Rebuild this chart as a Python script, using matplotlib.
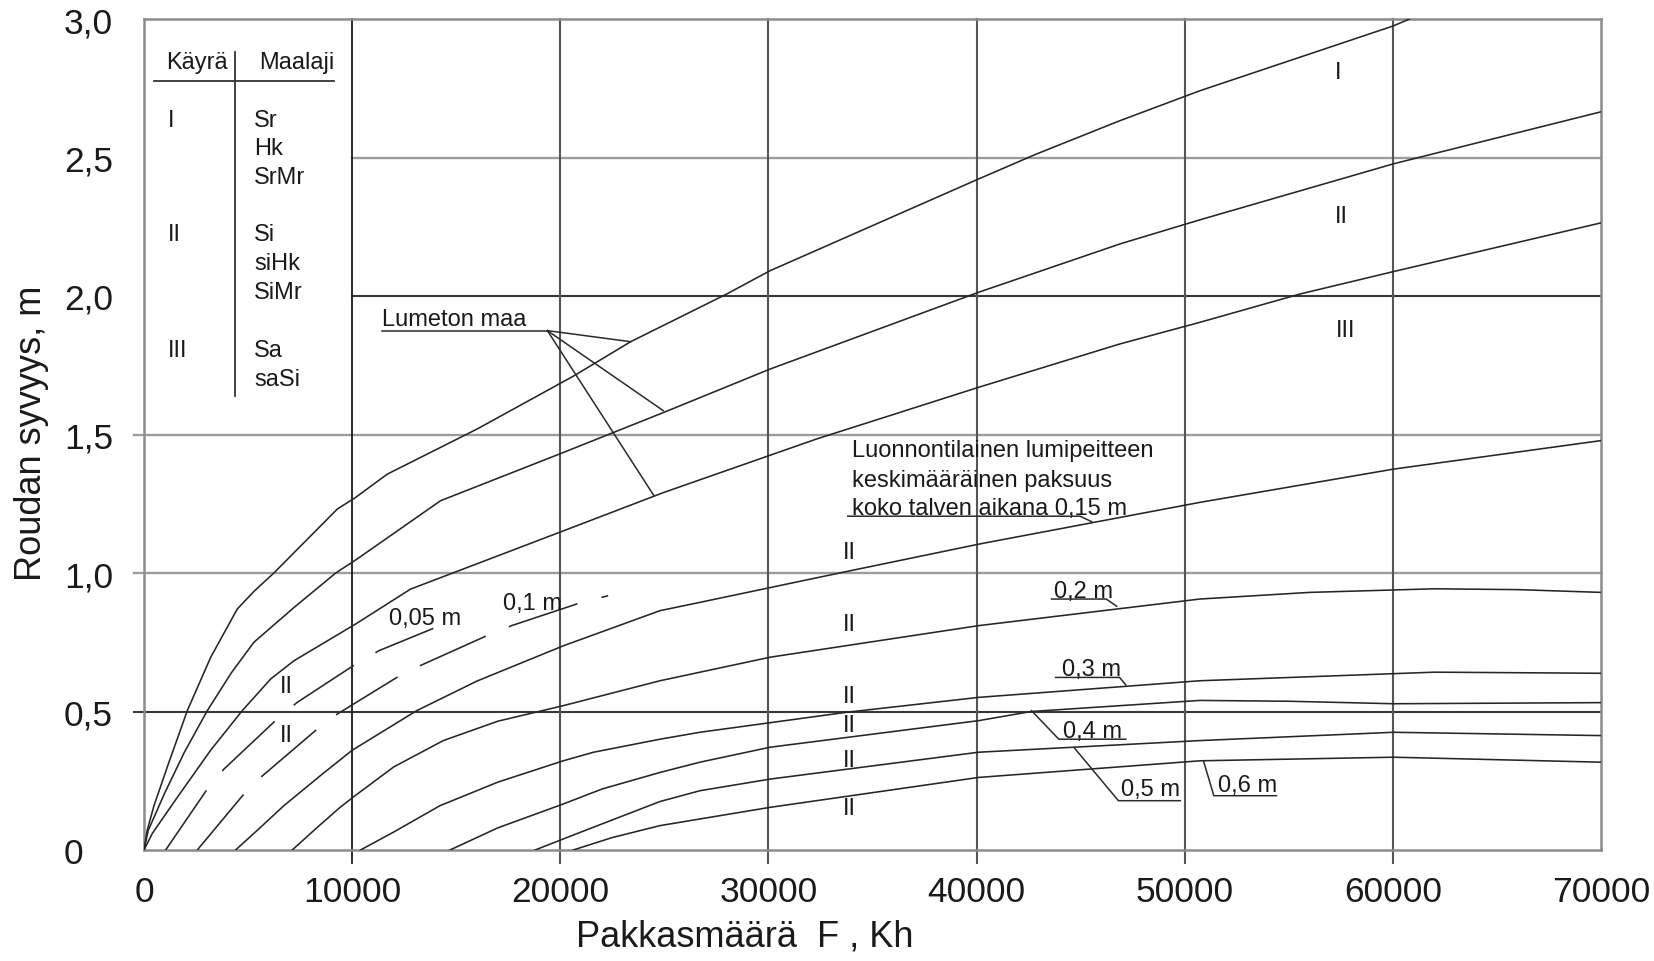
import matplotlib
matplotlib.use('Agg')
import matplotlib.pyplot as plt

plt.rcParams['font.family'] = ['Liberation Sans', 'DejaVu Sans']
plt.rcParams['lines.scale_dashes'] = False

# ===== Data (x = Kh, y = m) =====
# no snow ("Lumeton maa"), soil classes I, II, III
x_I = [0, 150, 480, 1120, 2080, 3200, 4480, 5300, 6240, 9290, 10170, 11690, 16010,
       20660, 23380, 27990, 30070, 40080, 42890, 46890, 50730, 60020, 60800]
y_I = [0, 0.07, 0.16, 0.30, 0.503, 0.695, 0.87, 0.935, 1.0, 1.231, 1.273, 1.357, 1.52,
       1.712, 1.835, 2.007, 2.091, 2.422, 2.513, 2.633, 2.741, 2.975, 3.0]
x_II = [0, 200, 960, 1920, 3040, 4200, 5280, 7200, 9210, 10170, 14250, 20180, 24980,
        30070, 40080, 46890, 50730, 60020, 70000]
y_II = [0, 0.07, 0.2, 0.35, 0.503, 0.64, 0.75, 0.875, 1.0, 1.047, 1.261, 1.436, 1.58,
        1.736, 2.013, 2.188, 2.275, 2.477, 2.665]
x_III = [0, 400, 1600, 3200, 4720, 6080, 7200, 10170, 12810, 20180, 24980, 32320,
         40080, 46890, 50730, 55530, 60020, 70000]
y_III = [0, 0.06, 0.19, 0.36, 0.503, 0.617, 0.683, 0.816, 0.942, 1.153, 1.291, 1.484,
         1.67, 1.827, 1.905, 2.007, 2.088, 2.264]

# snow cover curves (soil II)
x_005 = [1040, 3040, 3840, 6400, 7360, 10250, 11300, 13900]
y_005 = [0, 0.22, 0.292, 0.473, 0.533, 0.675, 0.72, 0.80]
x_010 = [2560, 4800, 5600, 8330, 9290, 12300, 13340, 16540, 17660, 21030, 22300]
y_010 = [0, 0.202, 0.262, 0.437, 0.491, 0.63, 0.668, 0.776, 0.81, 0.894, 0.918]
x_015 = [4400, 5500, 6720, 8500, 10000, 13100, 16000, 20140, 24790, 26710, 33730,
         40160, 50730, 60030, 70000]
y_015 = [0, 0.075, 0.16, 0.27, 0.36, 0.503, 0.61, 0.737, 0.864, 0.894, 1.005,
         1.105, 1.255, 1.375, 1.478]
x_020 = [7120, 8300, 9420, 10140, 12000, 14380, 17000, 20140, 24790, 30080, 40100,
         50730, 56000, 62000, 66000, 70000]
y_020 = [0, 0.08, 0.154, 0.196, 0.30, 0.395, 0.465, 0.521, 0.611, 0.696, 0.81,
         0.906, 0.93, 0.943, 0.94, 0.93]
x_030 = [10400, 12000, 14220, 17000, 20140, 21600, 24790, 26710, 33730, 40100,
         50730, 62000, 70000]
y_030 = [0, 0.065, 0.16, 0.245, 0.322, 0.353, 0.40, 0.425, 0.497, 0.551,
         0.611, 0.642, 0.638]
x_040 = [14700, 17000, 20140, 22000, 24790, 26710, 30080, 40100, 42630, 50730,
         55000, 60030, 70000]
y_040 = [0, 0.08, 0.166, 0.22, 0.28, 0.317, 0.371, 0.467, 0.5, 0.54,
         0.537, 0.528, 0.532]
x_050 = [18790, 21000, 24790, 26710, 30080, 40100, 50730, 60030, 70000]
y_050 = [0, 0.065, 0.175, 0.214, 0.256, 0.353, 0.395, 0.425, 0.413]
x_060 = [20620, 22500, 24790, 26710, 30080, 40100, 50730, 60030, 70000]
y_060 = [0, 0.045, 0.088, 0.112, 0.154, 0.262, 0.322, 0.335, 0.317]

x_ticks = [0, 10000, 20000, 30000, 40000, 50000, 60000, 70000]
y_ticks = [0, 0.5, 1.0, 1.5, 2.0, 2.5, 3.0]
y_ticklabels = ['0', '0,5', '1,0', '1,5', '2,0', '2,5', '3,0']

table_rows = [('I', ['Sr', 'Hk', 'SrMr']),
              ('II', ['Si', 'siHk', 'SiMr']),
              ('III', ['Sa', 'saSi'])]

# ===== Figure =====
fig = plt.figure(figsize=(16.54, 9.62), dpi=100)
ax = fig.add_axes([144/1654, 1 - 851/962, 1457/1654, 831/962])
ax.set_xlim(0, 70000)
ax.set_ylim(0, 3.0)

# grid, drawn by hand because the lines differ in extent and shade
light = '#9c9c9c'
dark = '#383838'
for yv in [0.5, 1.0, 1.5]:
    c = dark if yv == 0.5 else light
    ax.plot([-480, 70000], [yv, yv], color=c, lw=1.7 if c == light else 1.5,
            clip_on=False, zorder=1)
for yv in [2.0, 2.5]:
    c = dark if yv == 2.0 else light
    ax.plot([10000, 70000], [yv, yv], color=c, lw=1.7 if c == light else 1.5,
            zorder=1)
for xv in x_ticks[1:-1]:
    c = '#1a1a1a' if xv == 10000 else '#555555'
    ax.plot([xv, xv], [-0.047, 3.0], color=c, lw=1.3 if xv == 10000 else 1.5,
            clip_on=False, zorder=1)

for s in ax.spines.values():
    s.set_color('#8c8c8c')
    s.set_linewidth(1.8)

curve_kw = dict(color='#262626', lw=1.15, zorder=3)
for xs, ys in [(x_I, y_I), (x_II, y_II), (x_III, y_III), (x_015, y_015),
               (x_020, y_020), (x_030, y_030), (x_040, y_040),
               (x_050, y_050), (x_060, y_060)]:
    ax.plot(xs, ys, **curve_kw)
for xs, ys in [(x_005, y_005), (x_010, y_010)]:
    ax.plot(xs, ys, dashes=(52, 18), **curve_kw)

# ticks
ax.set_xticks(x_ticks)
ax.set_xticklabels([str(v) for v in x_ticks])
ax.set_yticks(y_ticks)
ax.set_yticklabels(y_ticklabels)
ax.tick_params(length=0, labelsize=25.5, colors='#1a1a1a')
ax.tick_params(axis='x', pad=18)
ax.tick_params(axis='y', pad=57.6)
for lab in ax.get_yticklabels():
    lab.set_ha('left')

ax.set_xlabel('Pakkasmäärä  F , Kh', fontsize=26, color='#1a1a1a')
ax.xaxis.label.set_va('center')
ax.xaxis.set_label_coords((745 - 144) / 1457, (851 - 937) / 831)
ax.set_ylabel('Roudan syvyys, m', fontsize=26, color='#1a1a1a')
ax.yaxis.label.set_va('center')
ax.yaxis.set_label_coords((32 - 144) / 1457, (851 - 433) / 831)

# ===== Table of soil classes =====
fs = 17
tc = '#1a1a1a'
ax.text(1057, 2.822, 'Käyrä', fontsize=fs, color=tc, va='baseline')
ax.text(5525, 2.822, 'Maalaji', fontsize=fs, color=tc, va='baseline')
ax.plot([480, 9130], [2.777, 2.777], color='#333333', lw=1.3)
ax.plot([4372, 4372], [2.881, 1.639], color='#333333', lw=1.3)
row_y = [[2.615, 2.513, 2.407], [2.203, 2.097, 1.993], [1.785, 1.680]]
for (curve, soils), ys in zip(table_rows, row_y):
    ax.text(1153, ys[0], curve, fontsize=fs, color=tc, va='baseline')
    for s, yv in zip(soils, ys):
        ax.text(5284, yv, s, fontsize=fs, color=tc, va='baseline')

# ===== Annotations =====
lk = dict(color='#2a2a2a', lw=1.1, zorder=4)
ax.text(11430, 1.895, 'Lumeton maa', fontsize=fs, color=tc, va='baseline')
ax.plot([11450, 19380], [1.875, 1.875], **lk)
for xe, ye in [(23380, 1.835), (24950, 1.586), (24500, 1.279)]:
    ax.plot([19380, xe], [1.875, ye], **lk)

ax.text(34010, 1.422, 'Luonnontilainen lumipeitteen', fontsize=fs, color=tc, va='baseline')
ax.text(34010, 1.314, 'keskimääräinen paksuus', fontsize=fs, color=tc, va='baseline')
ax.text(34010, 1.213, 'koko talven aikana 0,15 m', fontsize=fs, color=tc, va='baseline')
ax.plot([33810, 44970, 45540], [1.205, 1.205, 1.185], **lk)

ax.text(11790, 0.816, '0,05 m', fontsize=fs, color=tc, va='baseline')
ax.text(17230, 0.870, '0,1 m', fontsize=fs, color=tc, va='baseline')

ax.text(43720, 0.915, '0,2 m', fontsize=fs, color=tc, va='baseline')
ax.plot([43600, 46230, 46730], [0.906, 0.906, 0.880], **lk)
ax.text(44100, 0.632, '0,3 m', fontsize=fs, color=tc, va='baseline')
ax.plot([43800, 46870, 47170], [0.623, 0.623, 0.596], **lk)
ax.text(44150, 0.408, '0,4 m', fontsize=fs, color=tc, va='baseline')
ax.plot([42640, 43950, 47170], [0.503, 0.400, 0.400], **lk)
ax.text(46940, 0.200, '0,5 m', fontsize=fs, color=tc, va='baseline')
ax.plot([44680, 46815, 49790], [0.370, 0.178, 0.178], **lk)
ax.text(51600, 0.212, '0,6 m', fontsize=fs, color=tc, va='baseline')
ax.plot([50900, 51400, 54410], [0.322, 0.196, 0.196], **lk)

# soil class marks next to the curves
for yv in [0.569, 0.395]:
    ax.text(6850, yv, 'II', fontsize=fs, color=tc, va='baseline', ha='center')
for yv in [1.053, 0.794, 0.533, 0.431, 0.304, 0.130]:
    ax.text(33870, yv, 'II', fontsize=fs, color=tc, va='baseline', ha='center')
ax.text(57380, 2.786, 'I', fontsize=fs, color=tc, va='baseline', ha='center')
ax.text(57540, 2.268, 'II', fontsize=fs, color=tc, va='baseline', ha='center')
ax.text(57750, 1.855, 'III', fontsize=fs, color=tc, va='baseline', ha='center')

fig.savefig('out.png', dpi=100)
